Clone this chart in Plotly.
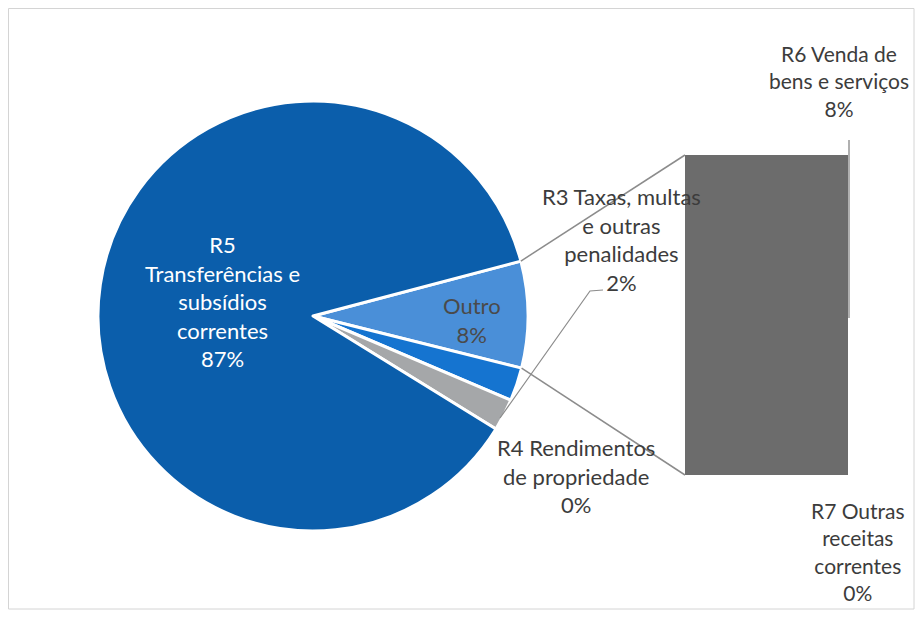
import math
import plotly.graph_objects as go

# ---- data ----
pie_labels = ["Outro", "R3 Taxas, multas e outras penalidades", "R4 Rendimentos de propriedade",
              "R5 Transferências e subsídios correntes"]
pie_values = [8.0, 2.5, 2.4, 87.0]
pie_pct_text = ["8%", "2%", "0%", "87%"]
pie_colors = ["#4a8fd8", "#1574d0", "#a5a7a9", "#0b5eab"]

bar_labels = ["R7 Outras receitas correntes", "R6 Venda de bens e serviços"]
bar_values = [0.0, 8.0]
bar_pct_text = ["0%", "8%"]
bar_color = "#6c6c6c"

OFF = 8  # page body margin
W, H = 923 - 2 * OFF, 618 - 2 * OFF
FONT = "Lato"

def px(x):
    return (x - OFF) / W

def py(y):
    return 1 - (y - OFF) / H

# pie geometry (window pixels)
CX, CY, R = 313, 316, 215
ROT = 75.2
# bar geometry (window pixels)
BX0, BX1, BY0, BY1 = 685, 848, 155, 475

fig = go.Figure()

fig.add_trace(go.Pie(
    labels=pie_labels, values=pie_values, sort=False, direction="clockwise",
    rotation=ROT, textinfo="none", hoverinfo="label+percent",
    marker=dict(colors=pie_colors, line=dict(color="white", width=3)),
    domain=dict(x=[px(CX - R), px(CX + R)], y=[py(CY + R), py(CY - R)]),
    showlegend=False,
))

for lab, val in zip(bar_labels, bar_values):
    fig.add_trace(go.Bar(
        x=[0], y=[val], name=lab, marker=dict(color=bar_color, line=dict(width=0)),
        width=1, showlegend=False, xaxis="x", yaxis="y",
    ))

fig.update_layout(
    barmode="stack",
    width=W, height=H, margin=dict(l=0, r=0, t=0, b=0),
    paper_bgcolor="white", plot_bgcolor="rgba(0,0,0,0)",
    xaxis=dict(domain=[px(BX0), px(BX1)], range=[-0.5, 0.5], visible=False, fixedrange=True),
    yaxis=dict(domain=[py(BY1), py(BY0)], range=[0, sum(bar_values)], visible=False, fixedrange=True),
    font=dict(family=FONT),
)

# connector lines from Outro slice edges to the bar
total = sum(pie_values)
a0 = math.radians(ROT)
a1 = math.radians(ROT + 360 * pie_values[0] / total)
p0 = (CX + R * math.sin(a0), CY - R * math.cos(a0))
p1 = (CX + R * math.sin(a1), CY - R * math.cos(a1))
line_col = "#8c8c8c"
fig.add_shape(type="line", xref="paper", yref="paper", x0=px(p0[0]), y0=py(p0[1]),
              x1=px(BX0), y1=py(BY0), line=dict(color=line_col, width=1.5))
fig.add_shape(type="line", xref="paper", yref="paper", x0=px(p1[0]), y0=py(p1[1]),
              x1=px(BX0), y1=py(BY1), line=dict(color=line_col, width=1.5))

# leader lines
fig.add_shape(type="path", xref="paper", yref="paper",
              path=f"M {px(603)} {py(290)} L {px(590)} {py(291)} L {px(500)} {py(418)}",
              line=dict(color=line_col, width=1.2))
fig.add_shape(type="line", xref="paper", yref="paper", x0=px(849), y0=py(140),
              x1=px(849), y1=py(318), line=dict(color="#b0b0b0", width=2))

# border
fig.add_shape(type="rect", xref="paper", yref="paper", x0=px(8.5), y0=py(8.5), x1=px(914), y1=py(609),
              line=dict(color="#d4d4d4", width=1))

txt = "#3c3c3c"
def ann(x, y, text, color=txt, size=22):
    fig.add_annotation(x=px(x), y=py(y), xref="paper", yref="paper", text=text, showarrow=False,
                       xanchor="center", yanchor="middle", align="center",
                       font=dict(family=FONT, size=size, color=color))

ann(222, 301, "R5<br>Transferências e<br>subsídios<br>correntes<br>" + pie_pct_text[3], color="white")
ann(472, 320, "Outro<br>" + pie_pct_text[0], color="#4a4a4a")
ann(621, 239, "R3 Taxas, multas<br>e outras<br>penalidades<br>" + pie_pct_text[1])
ann(576, 476, "R4 Rendimentos<br>de propriedade<br>" + pie_pct_text[2])
ann(839, 81, "R6 Venda de<br>bens e serviços<br>" + bar_pct_text[1], size=21)
ann(858, 551, "R7 Outras<br>receitas<br>correntes<br>" + bar_pct_text[0], size=21)

fig.write_html("out.html")
